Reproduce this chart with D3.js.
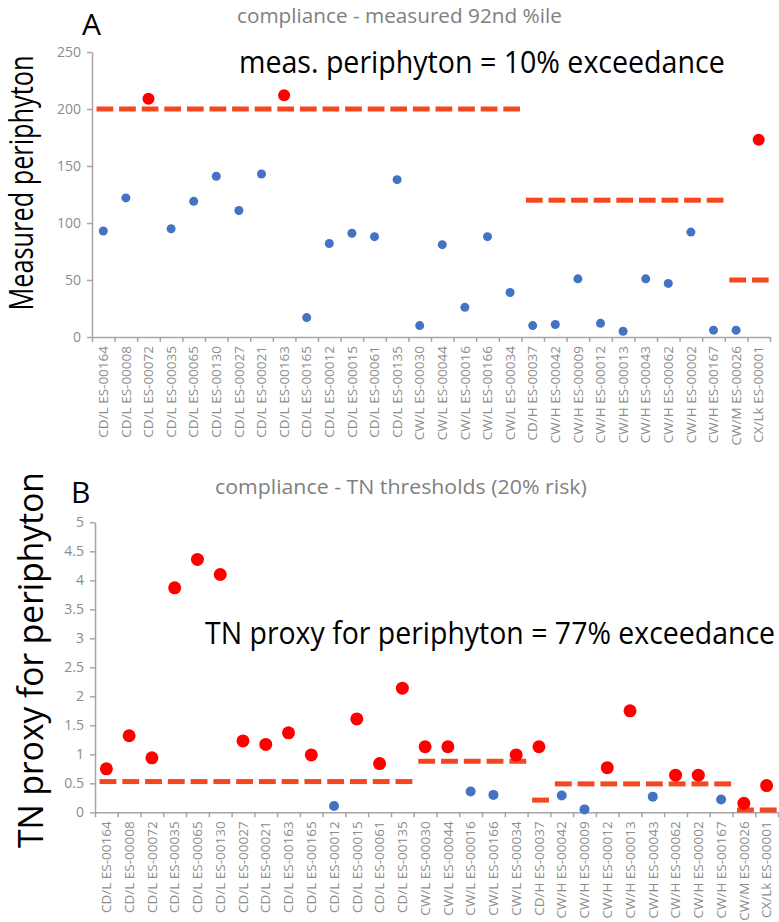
<!DOCTYPE html>
<html>
<head>
  <meta charset="utf-8">
  <title>Compliance charts</title>
  <script src="https://d3js.org/d3.v7.min.js"></script>
  <style>
    body { margin: 0; background: #fff; }
    svg { font-family: "Open Sans", "Noto Sans", sans-serif; }
    .axis path, .axis line { stroke: #a6a6a6; stroke-width: 1.5; }
    .axis text { fill: #8c8c8c; font-family: "Open Sans", sans-serif; }
  </style>
</head>
<body>
  <svg id="chart"></svg>

  <script>
    // Sites (same order in both panels)
    const categories = [
      "CD/L ES-00164", "CD/L ES-00008", "CD/L ES-00072", "CD/L ES-00035", "CD/L ES-00065",
      "CD/L ES-00130", "CD/L ES-00027", "CD/L ES-00021", "CD/L ES-00163", "CD/L ES-00165",
      "CD/L ES-00012", "CD/L ES-00015", "CD/L ES-00061", "CD/L ES-00135", "CW/L ES-00030",
      "CW/L ES-00044", "CW/L ES-00016", "CW/L ES-00166", "CW/L ES-00034", "CD/H ES-00037",
      "CW/H ES-00042", "CW/H ES-00009", "CW/H ES-00012", "CW/H ES-00013", "CW/H ES-00043",
      "CW/H ES-00062", "CW/H ES-00002", "CW/H ES-00167", "CW/M ES-00026", "CX/Lk ES-00001"
    ];

    // Panel A: measured 92nd percentile periphyton and its threshold
    const measured = [93, 122, 209, 95, 119, 141, 111, 143, 212, 17,
                      82, 91, 88, 138, 10, 81, 26, 88, 39, 10,
                      11, 51, 12, 5, 51, 47, 92, 6, 6, 173];
    const measuredLimit = [200, 200, 200, 200, 200, 200, 200, 200, 200, 200,
                           200, 200, 200, 200, 200, 200, 200, 200, 200, 120,
                           120, 120, 120, 120, 120, 120, 120, 120, 50, 50];

    // Panel B: TN proxy and TN thresholds (20% risk)
    const tnProxy = [0.75, 1.32, 0.94, 3.87, 4.36, 4.10, 1.23, 1.17, 1.37, 0.99,
                     0.11, 1.61, 0.84, 2.14, 1.13, 1.13, 0.36, 0.30, 0.99, 1.13,
                     0.29, 0.05, 0.77, 1.75, 0.27, 0.64, 0.64, 0.22, 0.155, 0.46];
    const tnLimit = [0.53, 0.53, 0.53, 0.53, 0.53, 0.53, 0.53, 0.53, 0.53, 0.53,
                     0.53, 0.53, 0.53, 0.53, 0.88, 0.88, 0.88, 0.88, 0.88, 0.21,
                     0.49, 0.49, 0.49, 0.49, 0.49, 0.49, 0.49, 0.49, 0.04, 0.04];

    const yTicksA = [0, 50, 100, 150, 200, 250];
    const yTicksB = [0, 0.5, 1, 1.5, 2, 2.5, 3, 3.5, 4, 4.5, 5];

    const width = 779, height = 922;
    const blue = "#4472c4", red = "#ff0000", dash = "#f4461f";

    const svg = d3.select("#chart").attr("width", width).attr("height", height);

    // squeeze a text horizontally (along its own baseline) to a target length
    function fit(sel, base, target) {
      const w = sel.node().getComputedTextLength();
      sel.attr("transform", `${base} scale(${target / w},1)`);
    }

    function panel(cfg) {
      const g = svg.append("g");
      const x = d3.scaleBand().domain(categories).range([cfg.left, cfg.right]);
      const xi = d3.scaleLinear().domain([0, categories.length]).range([cfg.left, cfg.right]);
      const y = d3.scaleLinear().domain(cfg.yDomain).range([cfg.bottom, cfg.top]);
      const bw = x.bandwidth();

      // y axis
      g.append("g").attr("class", "axis")
        .attr("transform", `translate(${cfg.left},0)`)
        .call(d3.axisLeft(y).tickValues(cfg.yTicks).tickFormat(d => String(d))
          .tickSize(5).tickSizeOuter(0).tickPadding(6))
        .selectAll("text").style("font-size", "14px");

      // x axis: tick marks between categories
      g.append("g").attr("class", "axis")
        .attr("transform", `translate(0,${cfg.bottom})`)
        .call(d3.axisBottom(xi).tickValues(d3.range(categories.length + 1))
          .tickFormat("").tickSize(5).tickSizeOuter(0));

      // x axis labels
      g.append("g").attr("class", "axis")
        .attr("transform", `translate(0,${cfg.bottom})`)
        .call(d3.axisBottom(x).tickSize(0))
        .call(a => a.select(".domain").remove())
        .selectAll("text")
        .attr("transform", "rotate(-90)")
        .attr("x", -cfg.labelGap).attr("y", 0).attr("dy", "0.35em")
        .style("text-anchor", "end")
        .style("font-size", "13.5px");

      // threshold dashes, one per site
      g.append("g").selectAll("line")
        .data(cfg.limit)
        .join("line")
        .attr("x1", (d, i) => x(categories[i]) + bw * 0.2)
        .attr("x2", (d, i) => x(categories[i]) + bw * 0.94)
        .attr("y1", d => y(d)).attr("y2", d => y(d))
        .attr("stroke", dash).attr("stroke-width", 5);

      // all values in blue
      g.append("g").selectAll("circle")
        .data(cfg.values)
        .join("circle")
        .attr("cx", (d, i) => x(categories[i]) + bw / 2)
        .attr("cy", d => y(d))
        .attr("r", cfg.rBlue)
        .attr("fill", blue);

      // exceedances in red on top
      g.append("g").selectAll("circle")
        .data(cfg.values.map((v, i) => ({ v, i })).filter(d => d.v > cfg.limit[d.i]))
        .join("circle")
        .attr("cx", d => x(categories[d.i]) + bw / 2)
        .attr("cy", d => y(d.v))
        .attr("r", cfg.rRed)
        .attr("fill", red);

      // texts
      g.append("text").attr("x", cfg.letter[0]).attr("y", cfg.letter[1])
        .style("font-size", "30px").attr("fill", "#000").text(cfg.letterText);

      const title = g.append("text")
        .style("font-size", "20px").attr("fill", "#808080").text(cfg.titleText);
      fit(title, `translate(${cfg.title[0]},${cfg.title[1]})`, cfg.title[2]);

      const note = g.append("text")
        .style("font-size", cfg.note[3] + "px").attr("fill", "#000").text(cfg.noteText);
      fit(note, `translate(${cfg.note[0]},${cfg.note[1]})`, cfg.note[2]);

      const ylab = g.append("text")
        .attr("text-anchor", "middle")
        .style("font-size", cfg.ylab[3] + "px").attr("fill", "#000").text(cfg.ylabText);
      fit(ylab, `translate(${cfg.ylab[0]},${cfg.ylab[1]}) rotate(-90)`, cfg.ylab[2]);
    }

    panel({
      left: 92, right: 770, top: 52, bottom: 337,
      yDomain: [0, 250], yTicks: yTicksA,
      values: measured, limit: measuredLimit,
      rBlue: 4.5, rRed: 6, labelGap: 9,
      letter: [82, 35], letterText: "A",
      title: [237, 23, 325], titleText: "compliance - measured 92nd %ile",
      note: [239, 73, 486, 31], noteText: "meas. periphyton = 10% exceedance",
      ylab: [33, 183, 255, 32], ylabText: "Measured periphyton"
    });

    panel({
      left: 95, right: 778, top: 522.3, bottom: 812.3,
      yDomain: [0, 5], yTicks: yTicksB,
      values: tnProxy, limit: tnLimit,
      rBlue: 5, rRed: 6.5, labelGap: 9,
      letter: [71, 503], letterText: "B",
      title: [215, 494, 372], titleText: "compliance - TN thresholds (20% risk)",
      note: [205, 644, 570, 31], noteText: "TN proxy for periphyton = 77% exceedance",
      ylab: [43, 660, 376, 35], ylabText: "TN proxy for periphyton"
    });
  </script>
</body>
</html>
